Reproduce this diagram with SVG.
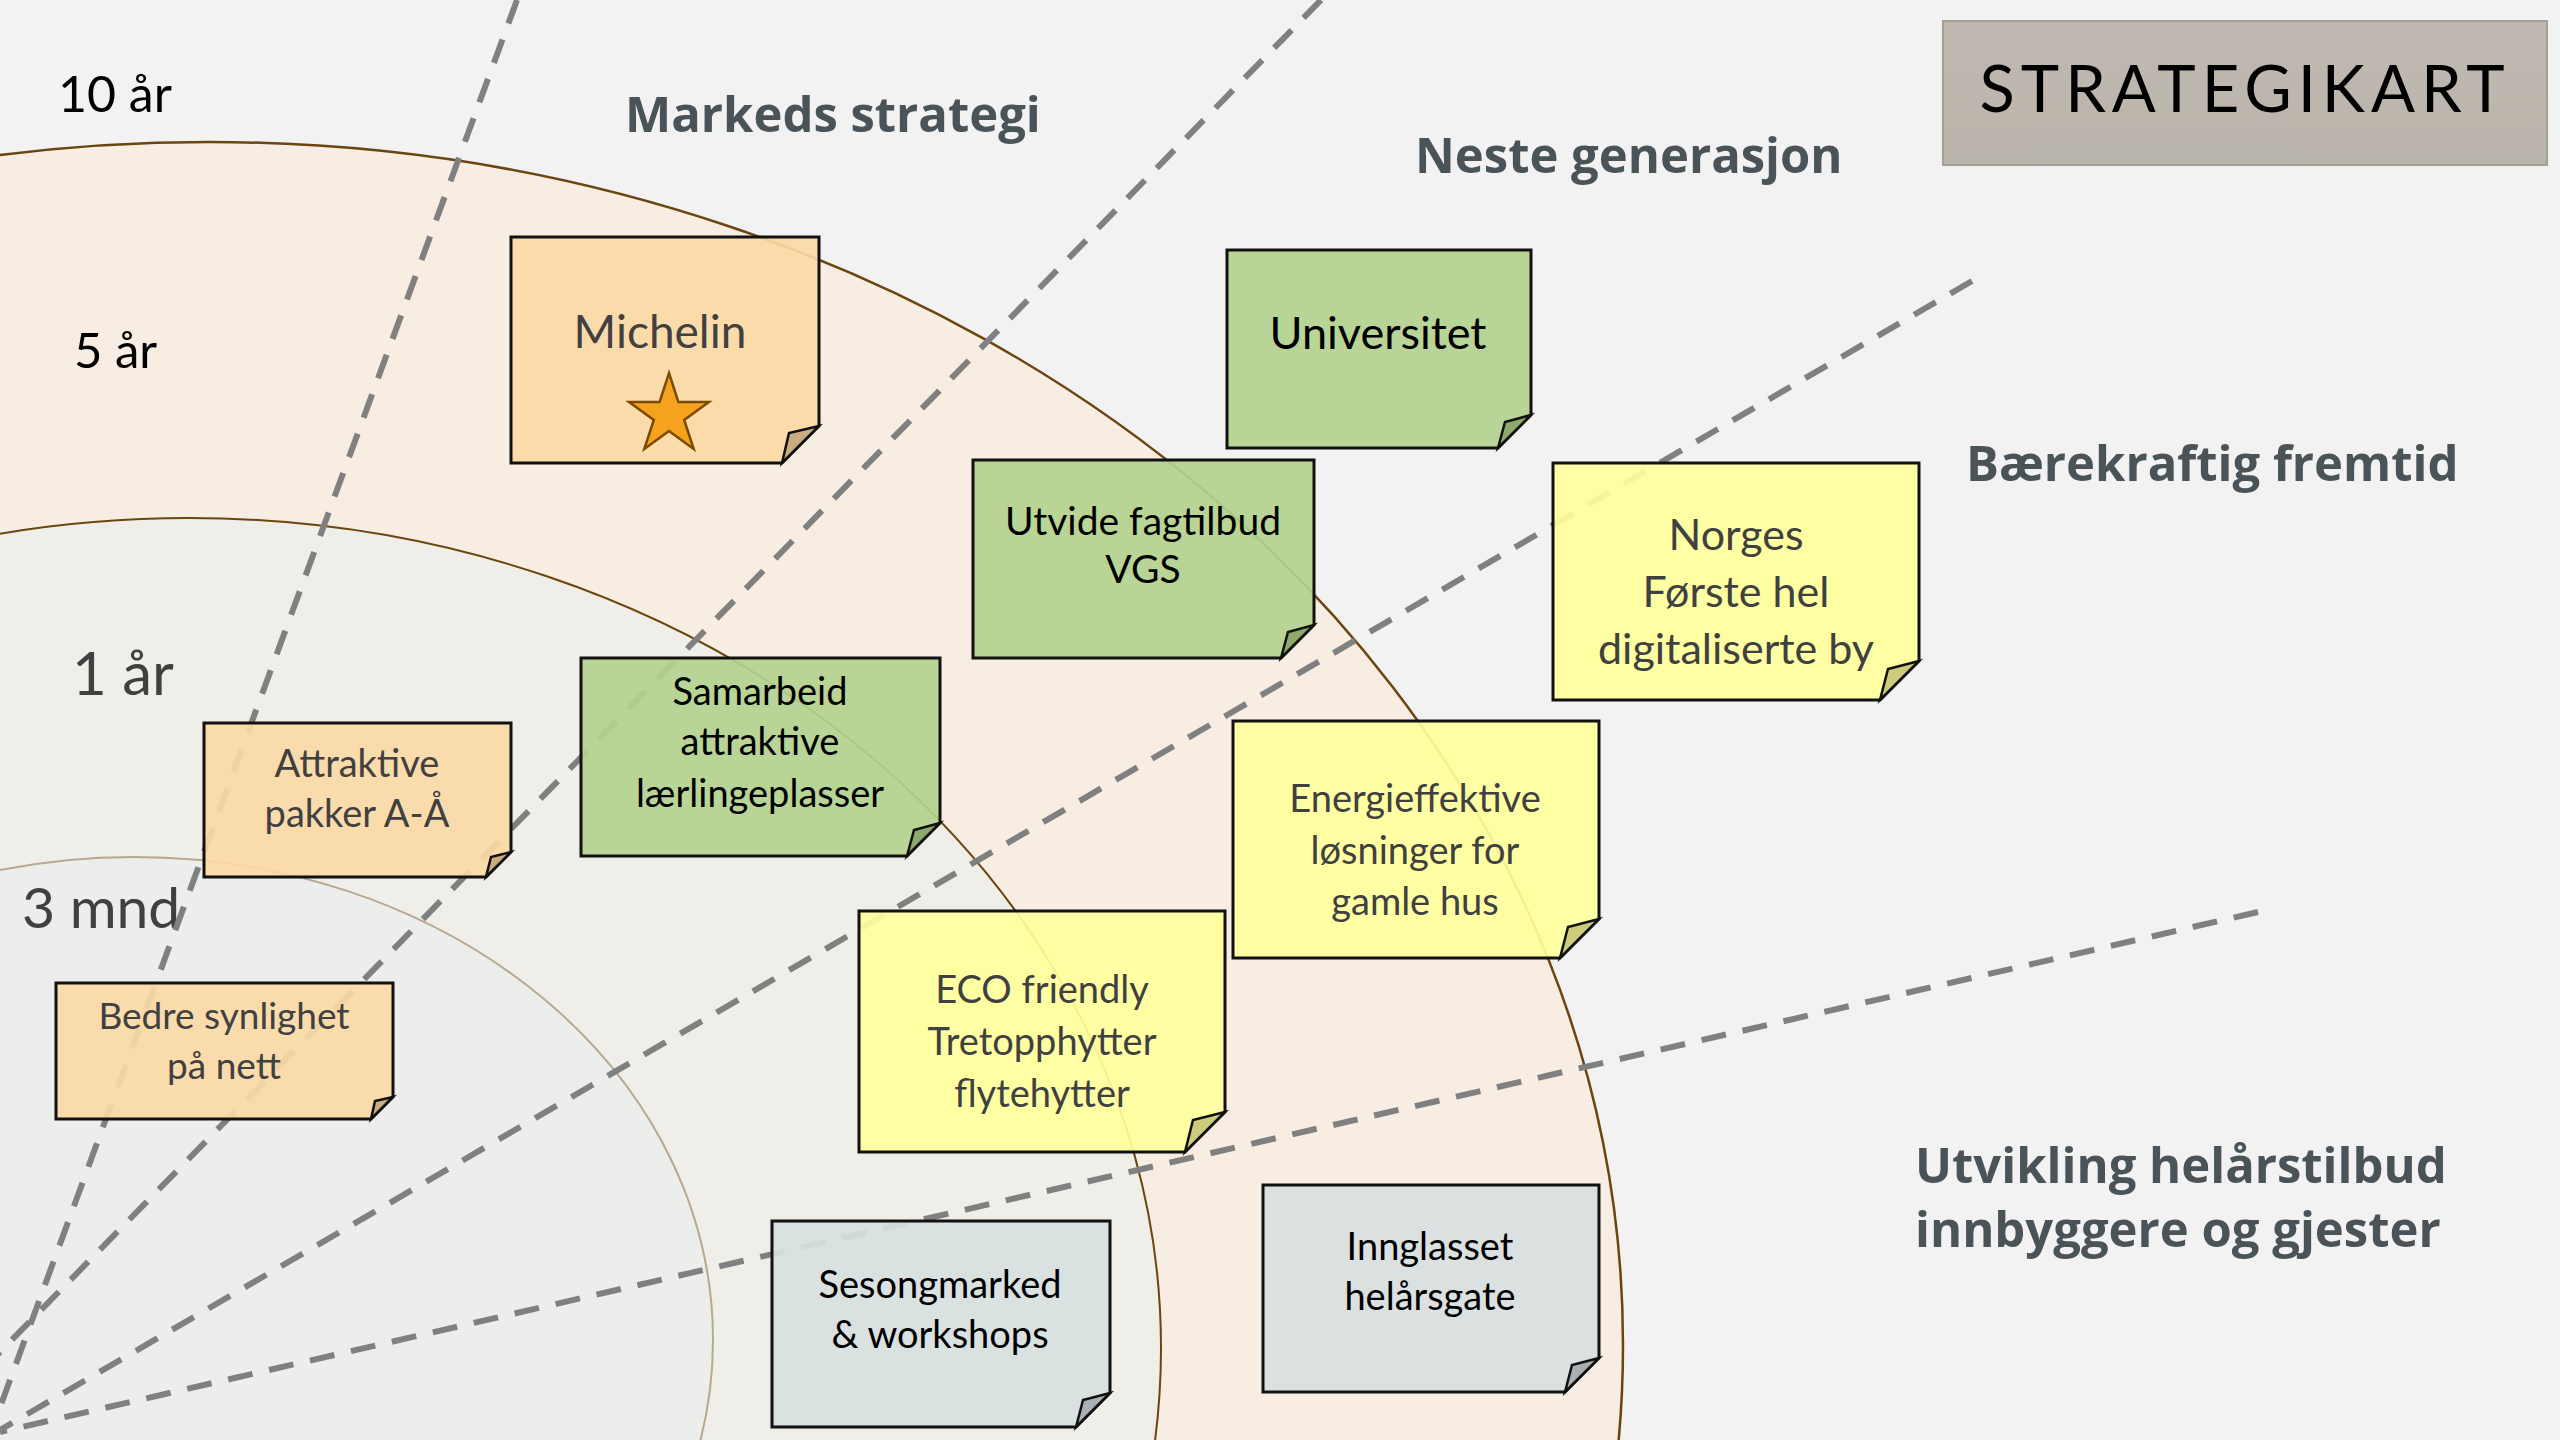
<svg xmlns="http://www.w3.org/2000/svg" width="2560" height="1440" viewBox="0 0 2560 1440">
  <defs>
    <linearGradient id="titleFill" x1="0" y1="0" x2="0" y2="1">
      <stop offset="0" stop-color="#c1b9b1"/>
      <stop offset="1" stop-color="#b9b4ab"/>
    </linearGradient>
  </defs>
  <style>
    .bg { fill: #f2f2f2; }
    .ring-outer { fill: #f7ede2; stroke: #6b4510; stroke-width: 2.5; }
    .ring-mid { fill: #f0eee9; stroke: #6b4510; stroke-width: 2; }
    .ring-inner { fill: #eceeec; stroke: #b7a990; stroke-width: 2; }
    .axis { fill: none; stroke: #808080; stroke-width: 6; stroke-dasharray: 25 17; }
    .note { stroke: #111111; stroke-width: 3; stroke-linejoin: miter; fill-opacity: 0.92; }
    .fold { stroke: #111111; stroke-width: 2.5; stroke-linejoin: miter; }
    .orange { fill: #fbd9a5; } .orange-fold { fill: #c8ad84; }
    .green { fill: #b3d18e; } .green-fold { fill: #8fa96c; }
    .yellow { fill: #ffff9c; } .yellow-fold { fill: #cccc7c; }
    .grey { fill: #d7dfe0; } .grey-fold { fill: #a9b0b3; }
    .label { font-family: "Lato", "Liberation Sans", sans-serif; text-anchor: middle; }
    .dark { fill: #404040; }
    .black { fill: #000000; }
    .ring-label { font-family: "Lato", "Liberation Sans", sans-serif; }
    .heading { font-family: "Open Sans", "Liberation Sans", sans-serif; font-weight: bold; font-size: 49px; fill: #4a5458; }
    .title { font-family: "Lato", "Liberation Sans", sans-serif; font-size: 65px; letter-spacing: 6px; text-anchor: middle; fill: #000000; }
  </style>

  <rect class="bg" x="0" y="0" width="2560" height="1440"/>

  <!-- time horizon rings -->
  <g id="rings">
    <ellipse class="ring-outer" cx="209" cy="1345" rx="1414" ry="1203"/>
    <ellipse class="ring-mid" cx="189" cy="1348" rx="972" ry="830"/>
    <ellipse class="ring-inner" cx="134" cy="1340" rx="579" ry="483"/>
  </g>

  <!-- horizon labels -->
  <g id="horizon-labels" class="ring-label">
    <text x="58" y="112" font-size="50" class="black">10 år</text>
    <text x="74" y="368" font-size="49" class="black">5 år</text>
    <text x="72" y="695" font-size="60" class="dark">1 år</text>
    <text x="22" y="928" font-size="57" class="dark">3 mnd</text>
  </g>

  <!-- sector dividers -->
  <g id="connectors">
    <line class="axis" x1="517" y1="0" x2="-12" y2="1440"/>
    <line class="axis" x1="1321" y1="0" x2="-86" y2="1440"/>
    <line class="axis" x1="1972" y1="281" x2="0" y2="1430"/>
    <line class="axis" x1="2258" y1="912" x2="0" y2="1432"/>
  </g>

  <!-- sector headings -->
  <g id="headings">
    <text class="heading" x="625" y="132">Markeds strategi</text>
    <text class="heading" x="1415" y="173">Neste generasjon</text>
    <text class="heading" x="1966" y="481">Bærekraftig fremtid</text>
    <text class="heading" x="1915" y="1183">Utvikling helårstilbud</text>
    <text class="heading" x="1915" y="1247">innbyggere og gjester</text>
  </g>

  <!-- title -->
  <g id="title">
    <rect x="1943" y="21" width="604" height="144" fill="url(#titleFill)" stroke="#a59e92" stroke-width="2"/>
    <text class="title" x="2245" y="112">STRATEGIKART</text>
  </g>

  <!-- sticky notes -->
  <g id="node-michelin">
    <path class="note orange" d="M511,237 H819 V426 L782,463 H511 Z"/>
    <path class="fold orange-fold" d="M819,426 L789,433 L782,463 Z"/>
    <text class="label dark" x="660" y="348" font-size="46">Michelin</text>
    <path d="M669,373 L678.4,402.1 L708.9,402 L684.2,419.9 L693.7,449 L669,431 L644.3,449 L653.8,419.9 L629.1,402 L659.6,402.1 Z" fill="#f5a31f" stroke="#7a4a00" stroke-width="2.5" stroke-linejoin="miter"/>
  </g>

  <g id="node-universitet">
    <path class="note green" d="M1227,250 H1531 V415 L1498,448 H1227 Z"/>
    <path class="fold green-fold" d="M1531,415 L1505,422 L1498,448 Z"/>
    <text class="label black" x="1378" y="349" font-size="45">Universitet</text>
  </g>

  <g id="node-utvide">
    <path class="note green" d="M973,460 H1314 V625 L1281,658 H973 Z"/>
    <path class="fold green-fold" d="M1314,625 L1288,632 L1281,658 Z"/>
    <text class="label black" font-size="39"><tspan x="1143" y="535">Utvide fagtilbud</tspan><tspan x="1143" y="583">VGS</tspan></text>
  </g>

  <g id="node-samarbeid">
    <path class="note green" d="M581,658 H940 V823 L907,856 H581 Z"/>
    <path class="fold green-fold" d="M940,823 L914,830 L907,856 Z"/>
    <text class="label black" font-size="38"><tspan x="760" y="705">Samarbeid</tspan><tspan x="760" y="755">attraktive</tspan><tspan x="760" y="807">lærlingeplasser</tspan></text>
  </g>

  <g id="node-attraktive">
    <path class="note orange" d="M204,723 H511 V852 L486,877 H204 Z"/>
    <path class="fold orange-fold" d="M511,852 L491,857 L486,877 Z"/>
    <text class="label dark" font-size="38"><tspan x="357" y="777">Attraktive</tspan><tspan x="357" y="827">pakker A-Å</tspan></text>
  </g>

  <g id="node-bedre">
    <path class="note orange" d="M56,983 H393 V1097 L371,1119 H56 Z"/>
    <path class="fold orange-fold" d="M393,1097 L375,1101 L371,1119 Z"/>
    <text class="label dark" font-size="37"><tspan x="224" y="1029">Bedre synlighet</tspan><tspan x="224" y="1079">på nett</tspan></text>
  </g>

  <g id="node-eco">
    <path class="note yellow" d="M859,911 H1225 V1112 L1185,1152 H859 Z"/>
    <path class="fold yellow-fold" d="M1225,1112 L1193,1120 L1185,1152 Z"/>
    <text class="label dark" font-size="38"><tspan x="1042" y="1003">ECO friendly</tspan><tspan x="1042" y="1055">Tretopphytter</tspan><tspan x="1042" y="1107">flytehytter</tspan></text>
  </g>

  <g id="node-energi">
    <path class="note yellow" d="M1233,721 H1599 V919 L1560,958 H1233 Z"/>
    <path class="fold yellow-fold" d="M1599,919 L1568,927 L1560,958 Z"/>
    <text class="label dark" font-size="38"><tspan x="1415" y="812">Energieffektive</tspan><tspan x="1415" y="864">løsninger for</tspan><tspan x="1415" y="915">gamle hus</tspan></text>
  </g>

  <g id="node-norges">
    <path class="note yellow" d="M1553,463 H1919 V661 L1880,700 H1553 Z"/>
    <path class="fold yellow-fold" d="M1919,661 L1888,669 L1880,700 Z"/>
    <text class="label dark" font-size="43"><tspan x="1736" y="550">Norges</tspan><tspan x="1736" y="607">Første hel</tspan><tspan x="1736" y="664">digitaliserte by</tspan></text>
  </g>

  <g id="node-sesong">
    <path class="note grey" d="M772,1221 H1110 V1393 L1076,1427 H772 Z"/>
    <path class="fold grey-fold" d="M1110,1393 L1083,1400 L1076,1427 Z"/>
    <text class="label black" font-size="38"><tspan x="940" y="1298">Sesongmarked</tspan><tspan x="940" y="1348">&amp; workshops</tspan></text>
  </g>

  <g id="node-innglasset">
    <path class="note grey" d="M1263,1185 H1599 V1358 L1565,1392 H1263 Z"/>
    <path class="fold grey-fold" d="M1599,1358 L1572,1365 L1565,1392 Z"/>
    <text class="label black" font-size="38"><tspan x="1430" y="1260">Innglasset</tspan><tspan x="1430" y="1310">helårsgate</tspan></text>
  </g>
</svg>
